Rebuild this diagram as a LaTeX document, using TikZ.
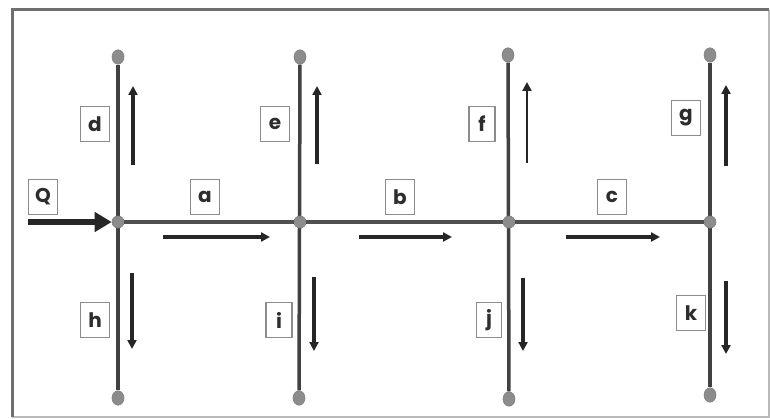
\documentclass[tikz,border=0pt]{standalone}
\usepackage{fontspec}
\setmainfont{Poppins}
\usetikzlibrary{arrows.meta}
\definecolor{framedark}{RGB}{110,110,110}
\definecolor{framelight}{RGB}{185,185,185}
\definecolor{pipe}{RGB}{65,65,65}
\definecolor{mainpipe}{RGB}{80,80,80}
\definecolor{dotfill}{RGB}{140,140,140}
\definecolor{boxline}{RGB}{140,140,140}
\definecolor{txt}{RGB}{45,45,45}
\begin{document}
\begin{tikzpicture}[x=1pt,y=-1pt,
  lbl/.style={draw=boxline,line width=1.6pt,fill=white,minimum width=29pt,minimum height=35pt,inner sep=0pt,font=\fontsize{20}{20}\selectfont\bfseries,text=txt},
  dot/.style={circle,fill=dotfill,draw=gray,line width=0.6pt,minimum width=12pt,minimum height=12pt,inner sep=0pt,yscale=1.2},
  jn/.style={circle,fill=dotfill,draw=gray,line width=0.6pt,minimum size=12pt,inner sep=0pt},
  pipeline/.style={draw=pipe,line width=3.5pt},
  flow/.style={draw=black!85,line width=3.2pt,-{Triangle[length=9pt,width=9pt]}},
]
\useasboundingbox (0,0) rectangle (770,419);
\fill[white] (0,0) rectangle (770,419);
% frame
\draw[framelight,line width=1.5pt] (12,417) -- (769,417) -- (769,10);
\draw[framedark,line width=3pt] (12,417) -- (12,10) -- (769,10);
% end points
\node[dot] (dt) at (118,57) {};
\node[dot] (et) at (300,57) {};
\node[dot] (ft) at (508,55) {};
\node[dot] (gt) at (710,55) {};
\node[dot] (hb) at (118,398) {};
\node[dot] (ib) at (299,398) {};
\node[dot] (jb) at (509,399) {};
\node[dot] (kb) at (710,395) {};
% pipes
\draw[pipeline] (dt) -- (hb);
\draw[pipeline] (et) -- (ib);
\draw[pipeline] (ft) -- (jb);
\draw[pipeline] (gt) -- (kb);
% junctions
\node[jn] (j1) at (118,222) {};
\node[jn] (j2) at (300,222) {};
\node[jn] (j3) at (509,222) {};
\node[jn] (j4) at (710,222) {};
\draw[draw=mainpipe,line width=4.5pt] (j1) -- (j2);
\draw[draw=mainpipe,line width=4.5pt] (j2) -- (j3);
\draw[draw=mainpipe,line width=4.5pt] (j3) -- (j4);
% inflow Q
\coordinate (q0) at (28,222);
\draw[draw=black!85,line width=5.5pt,-{Triangle[length=17pt,width=19pt]}] (q0) -- (j1.west);
% flow arrows
\coordinate (da0) at (133,165); \coordinate (da1) at (133,86);
\coordinate (ea0) at (317,164); \coordinate (ea1) at (317,86);
\coordinate (fa0) at (527,163); \coordinate (fa1) at (527,82);
\coordinate (ga0) at (726,166); \coordinate (ga1) at (726,85);
\draw[flow] (da0) -- (da1);
\draw[flow] (ea0) -- (ea1);
\draw[flow,line width=2.2pt] (fa0) -- (fa1);
\draw[flow] (ga0) -- (ga1);
\coordinate (ha0) at (132,273); \coordinate (ha1) at (132,349);
\coordinate (ia0) at (314,277); \coordinate (ia1) at (314,351);
\coordinate (ja0) at (523,278); \coordinate (ja1) at (523,351);
\coordinate (ka0) at (726,281); \coordinate (ka1) at (726,354);
\draw[flow] (ha0) -- (ha1);
\draw[flow] (ia0) -- (ia1);
\draw[flow] (ja0) -- (ja1);
\draw[flow] (ka0) -- (ka1);
\coordinate (aa0) at (163,237); \coordinate (aa1) at (270,237);
\coordinate (ba0) at (359,237); \coordinate (ba1) at (452,237);
\coordinate (ca0) at (566,237); \coordinate (ca1) at (660,237);
\draw[flow] (aa0) -- (aa1);
\draw[flow] (ba0) -- (ba1);
\draw[flow] (ca0) -- (ca1);
% labels
\node[lbl] (Q) at (43,197) {Q};
\node[lbl] (a) at (205,197) {a};
\node[lbl] (b) at (400,197) {b};
\node[lbl] (c) at (612,197) {c};
\node[lbl] (d) at (95,124) {d};
\node[lbl] (e) at (275,124) {e};
\node[lbl,minimum width=26pt] (f) at (482,124) {f};
\node[lbl] (g) at (686,118) {g};
\node[lbl] (h) at (95,320) {h};
\node[lbl,minimum width=26pt] (i) at (279,320) {i};
\node[lbl,minimum width=25pt] (j) at (489,320) {j};
\node[lbl] (k) at (691,313) {k};
\end{tikzpicture}
\end{document}
